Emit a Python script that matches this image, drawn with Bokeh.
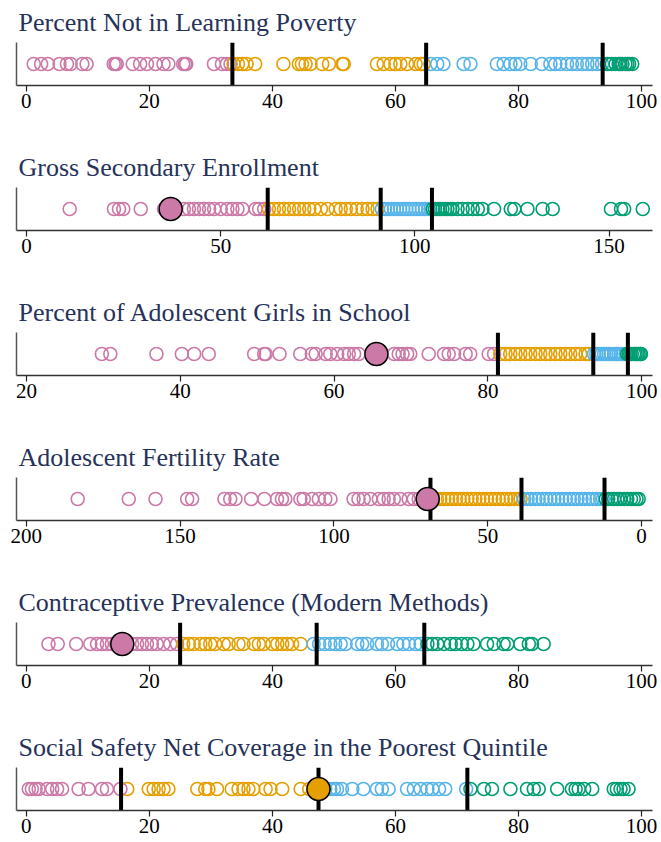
from bokeh.plotting import figure
from bokeh.layouts import column
from bokeh.models import Range1d, FixedTicker
from bokeh.embed import file_html
from bokeh.resources import INLINE

PINK = "#CC79A7"
ORANGE = "#E69F00"
BLUE = "#56B4E9"
GREEN = "#009E73"

# ---- Panel 1: Percent Not in Learning Poverty
p1_title = "Percent Not in Learning Poverty"
p1_pink = [1.2, 2.4, 3.5, 5.4, 6.6, 7.2, 9.1, 9.8, 14.2, 14.5, 14.7, 17.3, 18.5, 19.6, 21.0, 22.3, 23.1, 25.5, 25.8, 26.0, 30.5, 31.8, 32.6, 33.2]
p1_orange = [33.7, 34.4, 35.1, 35.8, 37.2, 41.8, 44.3, 44.8, 45.4, 46.2, 48.1, 49.2, 51.4, 51.6, 57.0, 58.1, 59.2, 60.0, 60.8, 61.9, 63.3, 64.1, 64.6]
p1_blue = [65.7, 66.8, 67.8, 71.1, 72.2, 76.5, 77.6, 78.7, 79.5, 80.3, 82.0, 83.8, 85.2, 86.0, 86.8, 87.9, 88.7, 89.5, 90.4, 91.2, 92.0, 92.8, 93.6]
p1_green = [94.4, 94.8, 95.2, 95.8, 96.3, 96.6, 96.9, 97.4, 97.7, 98.0, 98.5]
p1_thresholds = [33.5, 65.0, 93.7]
p1_highlight = []
p1_ticks = [0, 20, 40, 60, 80, 100]

# ---- Panel 2: Gross Secondary Enrollment
p2_title = "Gross Secondary Enrollment"
p2_pink = [11.1, 22.5, 23.8, 24.9, 29.4, 35.4, 38.5, 40.5, 41.8, 43.1, 44.4, 45.7, 47.0, 48.3, 50.0, 51.7, 53.0, 54.3, 55.6, 59.0, 59.9, 61.2]
p2_orange = [62.4, 63.7, 65.0, 66.3, 67.6, 68.9, 70.2, 71.5, 72.8, 74.1, 75.8, 77.5, 79.6, 80.9, 82.2, 83.5, 85.0, 86.5, 87.8, 89.1, 90.4]
p2_blue = [91.5, 92.3, 93.0, 93.8, 94.6, 95.4, 96.2, 97.0, 97.8, 98.6, 99.4, 100.2, 101.0, 101.8, 102.6, 103.4, 104.0]
p2_green = [104.6, 105.2, 105.9, 106.5, 107.1, 107.8, 108.4, 109.1, 109.7, 111.0, 112.3, 113.6, 114.9, 116.2, 117.4, 120.4, 124.7, 125.6, 129.0, 132.9, 135.5, 150.5, 153.1, 153.9, 158.7]
p2_thresholds = [62.1, 91.2, 104.4]
p2_highlight = [37.1]
p2_ticks = [0, 50, 100, 150]

# ---- Panel 3: Percent of Adolescent Girls in School
p3_title = "Percent of Adolescent Girls in School"
p3_pink = [29.8, 30.9, 36.9, 40.2, 41.8, 43.7, 49.6, 50.9, 51.1, 52.9, 55.6, 57.1, 57.6, 58.9, 59.5, 60.4, 61.3, 61.9, 62.6, 63.2, 67.8, 68.4, 68.9, 69.5, 69.9, 72.3, 74.3, 74.9, 75.6, 77.1, 77.7, 80.1, 80.8]
p3_orange = [81.6, 82.3, 82.9, 83.6, 84.2, 84.9, 85.5, 86.2, 86.8, 87.5, 88.1, 88.8, 89.4, 90.1, 90.7, 91.4, 92.0, 92.7, 93.1]
p3_blue = [93.8, 94.1, 94.4, 94.8, 95.1, 95.4, 95.7, 96.0, 96.4, 96.7, 97.0, 97.3, 97.6, 97.9]
p3_green = [98.1, 98.3, 98.5, 98.7, 99.0, 99.2, 99.4, 99.6, 99.8, 99.9]
p3_thresholds = [81.3, 93.7, 98.2]
p3_highlight = [65.5]
p3_ticks = [20, 40, 60, 80, 100]

# ---- Panel 4: Adolescent Fertility Rate (reversed axis)
p4_title = "Adolescent Fertility Rate"
p4_pink = [183.3, 166.7, 158.0, 147.7, 146.1, 135.6, 133.7, 132.0, 126.9, 122.6, 118.5, 116.9, 115.8, 110.9, 109.8, 107.1, 104.9, 102.8, 101.1, 93.6, 92.0, 90.3, 88.1, 85.4, 83.8, 82.2, 80.5, 78.4, 75.7, 74.0, 72.4, 70.5]
p4_orange = [67.8, 66.5, 65.4, 64.1, 62.9, 61.6, 60.3, 59.1, 57.9, 56.6, 55.2, 54.0, 52.7, 51.5, 50.2, 48.9, 47.6, 46.4, 45.1, 43.9, 42.5, 41.3, 40.1, 39.3]
p4_blue = [38.2, 37.0, 35.9, 34.5, 33.4, 32.1, 30.9, 29.6, 28.3, 27.1, 25.8, 24.6, 23.3, 22.0, 20.8, 19.5, 18.4, 17.1, 15.9, 14.6, 13.4, 12.5]
p4_green = [11.6, 10.8, 9.7, 8.9, 7.8, 6.9, 5.6, 4.6, 3.4, 2.5, 1.6, 0.9]
p4_thresholds = [68.6, 39.0, 12.0]
p4_highlight = [69.5]
p4_ticks = [200, 150, 100, 50, 0]

# ---- Panel 5: Contraceptive Prevalence (Modern Methods)
p5_title = "Contraceptive Prevalence (Modern Methods)"
p5_pink = [3.6, 5.1, 8.1, 10.4, 11.5, 12.3, 13.1, 13.9, 14.6, 15.2, 16.4, 17.2, 18.0, 18.8, 19.6, 20.4, 21.2, 22.3, 23.4, 24.5]
p5_orange = [25.5, 26.4, 27.2, 28.3, 29.1, 29.9, 30.7, 32.1, 32.9, 34.5, 35.3, 37.0, 37.8, 38.6, 40.0, 40.8, 41.6, 42.4, 43.2, 44.6]
p5_blue = [46.7, 47.6, 48.5, 49.4, 50.2, 51.1, 51.9, 53.8, 54.6, 55.4, 57.0, 57.8, 58.8, 60.3, 61.3, 62.2, 63.3, 64.1]
p5_green = [65.2, 66.0, 66.8, 67.9, 69.0, 69.8, 70.8, 71.7, 72.7, 74.9, 76.0, 77.6, 78.2, 80.3, 81.7, 82.2, 84.1]
p5_thresholds = [25.0, 47.2, 64.7]
p5_highlight = [15.6]
p5_ticks = [0, 20, 40, 60, 80, 100]

# ---- Panel 6: Social Safety Net Coverage in the Poorest Quintile
p6_title = "Social Safety Net Coverage in the Poorest Quintile"
p6_pink = [0.4, 0.9, 1.5, 2.0, 3.4, 4.2, 5.0, 5.8, 8.5, 10.1, 12.3, 13.1, 15.3]
p6_orange = [16.4, 19.9, 20.7, 21.5, 22.3, 23.1, 27.8, 29.1, 29.6, 31.0, 33.4, 34.5, 35.3, 36.1, 36.9, 38.9, 39.7, 41.6, 44.6, 46.0]
p6_blue = [48.6, 49.4, 50.0, 50.5, 51.3, 53.0, 54.8, 57.0, 57.8, 58.9, 61.9, 63.0, 64.1, 65.2, 66.0, 67.1, 68.1, 71.5]
p6_green = [72.2, 74.4, 75.7, 78.7, 81.4, 82.5, 83.3, 86.3, 88.7, 89.3, 89.8, 90.7, 92.0, 95.5, 96.0, 96.6, 97.1, 97.9]
p6_thresholds = [15.4, 47.5, 71.7]
p6_highlight = [47.5]
p6_ticks = [0, 20, 40, 60, 80, 100]

FONT = "Liberation Serif"
TITLE_COLOR = "#26325a"


def panel(title, pink, orange, blue, green, thresholds, highlight, hl_color,
          xr, ticks, top, bottom):
    p = figure(frame_width=636, frame_height=43,
               x_range=Range1d(*xr), y_range=Range1d(-1, 1),
               output_backend="svg", toolbar_location=None,
               min_border_left=16, min_border_right=9,
               min_border_top=top, min_border_bottom=bottom,
               title=title)
    p.title.text_font = FONT
    p.title.text_font_size = "26px"
    p.title.text_font_style = "normal"
    p.title.text_color = TITLE_COLOR
    p.title.align = "left"
    p.title.offset = 2
    p.title.standoff = 11
    p.outline_line_color = None
    p.xgrid.grid_line_color = None
    p.ygrid.grid_line_color = None
    p.background_fill_color = "white"
    p.border_fill_color = "white"

    p.xaxis.ticker = FixedTicker(ticks=ticks)
    p.xaxis.minor_tick_line_color = None
    p.xaxis.major_tick_out = 6
    p.xaxis.major_tick_in = 0
    p.xaxis.major_tick_line_color = "#222222"
    p.xaxis.major_tick_line_width = 1.2
    p.xaxis.axis_line_color = "#333333"
    p.xaxis.axis_line_width = 1.5
    p.xaxis.major_label_text_font = FONT
    p.xaxis.major_label_text_font_size = "21px"
    p.xaxis.major_label_text_color = "black"
    p.xaxis.major_label_standoff = 2

    p.yaxis.ticker = FixedTicker(ticks=[])
    p.yaxis.major_tick_line_color = None
    p.yaxis.minor_tick_line_color = None
    p.yaxis.major_label_text_font_size = "0px"
    p.yaxis.axis_line_color = "#555555"
    p.yaxis.axis_line_width = 1.5

    for vals, col in [(pink, PINK), (orange, ORANGE), (blue, BLUE), (green, GREEN)]:
        p.scatter(x=vals, y=[0] * len(vals), marker="circle", size=13,
                  fill_color=None, line_color=col, line_width=1.6)

    p.segment(x0=thresholds, y0=[-1] * len(thresholds),
              x1=thresholds, y1=[1] * len(thresholds),
              line_color="black", line_width=4)

    if highlight:
        p.scatter(x=highlight, y=[0] * len(highlight), marker="circle", size=23,
                  fill_color=hl_color, line_color="black", line_width=1.5)
    return p


figs = [
    panel(p1_title, p1_pink, p1_orange, p1_blue, p1_green, p1_thresholds, p1_highlight, PINK,
          (-1.6, 101.8), p1_ticks, 42, 60),
    panel(p2_title, p2_pink, p2_orange, p2_blue, p2_green, p2_thresholds, p2_highlight, PINK,
          (-2.6, 161.2), p2_ticks, 30, 60),
    panel(p3_title, p3_pink, p3_orange, p3_blue, p3_green, p3_thresholds, p3_highlight, PINK,
          (18.7, 101.4), p3_ticks, 30, 60),
    panel(p4_title, p4_pink, p4_orange, p4_blue, p4_green, p4_thresholds, p4_highlight, PINK,
          (203.2, -3.6), p4_ticks, 30, 60),
    panel(p5_title, p5_pink, p5_orange, p5_blue, p5_green, p5_thresholds, p5_highlight, PINK,
          (-1.6, 101.8), p5_ticks, 30, 60),
    panel(p6_title, p6_pink, p6_orange, p6_blue, p6_green, p6_thresholds, p6_highlight, ORANGE,
          (-1.6, 101.8), p6_ticks, 30, 32),
]

layout = column(*figs, spacing=0)
open("out.html", "w").write(file_html(layout, INLINE))
